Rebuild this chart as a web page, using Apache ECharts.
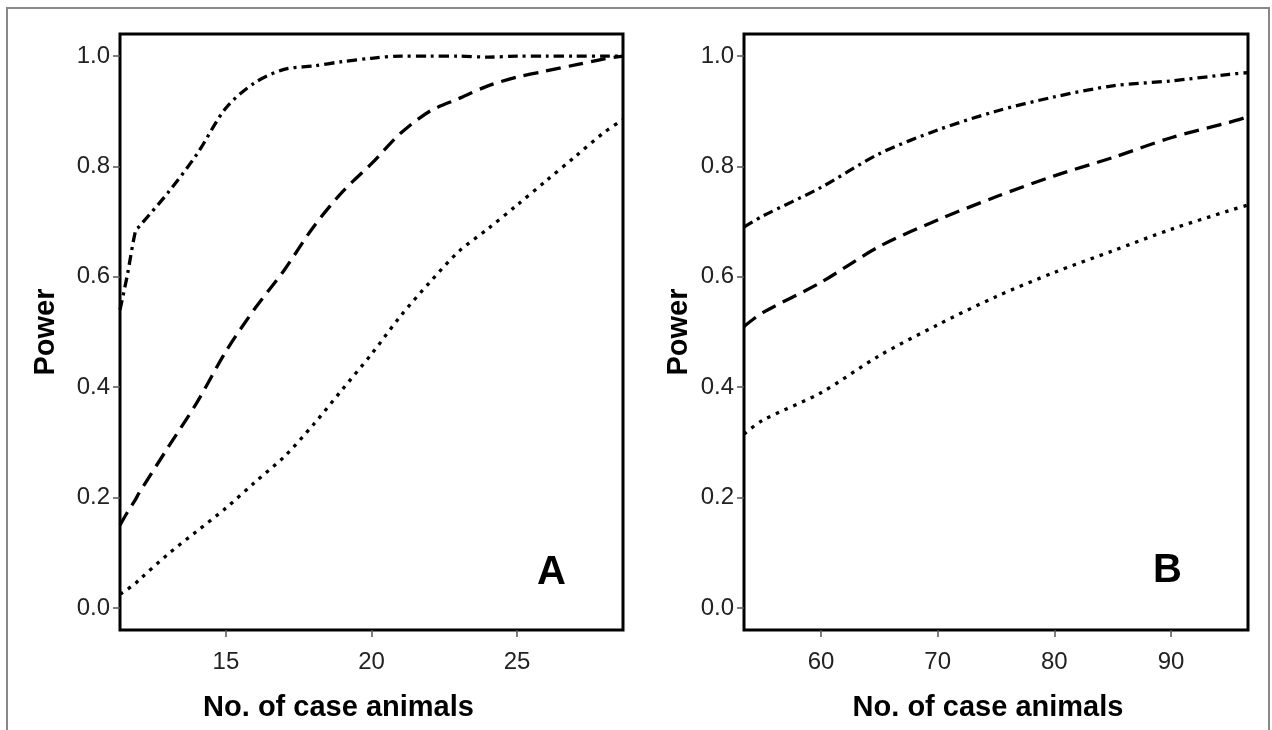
<!DOCTYPE html>
<html>
<head>
<meta charset="utf-8">
<script src="https://cdn.jsdelivr.net/npm/echarts@6/dist/echarts.min.js"></script>
<style>
html,body{margin:0;padding:0;background:#fff;}
#c{width:1272px;height:730px;}
</style>
</head>
<body>
<div id="c"></div>
<script>
// ---- Data ----
var xA = [11.36, 11.6, 11.9, 12, 13, 14, 15, 16, 17, 18, 19, 20, 21, 22, 23, 24, 25, 26, 27, 28, 28.64];
var dashDotA = [0.54, 0.60, 0.685, 0.69, 0.752, 0.822, 0.906, 0.952, 0.976, 0.982, 0.99, 0.996, 1.0, 1.0, 1.0, 0.998, 1.0, 1.0, 1.0, 1.0, 1.0];
var dashedA  = [0.15, 0.172, 0.197, 0.207, 0.29, 0.372, 0.465, 0.543, 0.612, 0.69, 0.754, 0.805, 0.86, 0.90, 0.923, 0.946, 0.962, 0.973, 0.984, 0.995, 1.0];
var dottedA  = [0.025, 0.033, 0.045, 0.05, 0.097, 0.139, 0.181, 0.228, 0.274, 0.332, 0.396, 0.46, 0.529, 0.59, 0.646, 0.687, 0.73, 0.774, 0.818, 0.862, 0.885];

var xB = [53.4, 55, 60, 65, 70, 75, 80, 85, 90, 95, 96.6];
var dashDotB = [0.69, 0.71, 0.762, 0.823, 0.866, 0.90, 0.926, 0.946, 0.955, 0.967, 0.970];
var dashedB  = [0.51, 0.535, 0.59, 0.655, 0.703, 0.745, 0.783, 0.816, 0.852, 0.88, 0.89];
var dottedB  = [0.315, 0.34, 0.39, 0.457, 0.513, 0.564, 0.608, 0.647, 0.686, 0.72, 0.73];

var xTicksA = [15, 20, 25];
var xTicksB = [60, 70, 80, 90];
var yTicks = [0, 0.2, 0.4, 0.6, 0.8, 1.0];
var xRangeA = [11.36, 28.64];
var xRangeB = [53.4, 96.6];
var yRange = [-0.04, 1.04];
var yTitle = 'Power';
var xTitle = 'No. of case animals';
var panelLabels = ['A', 'B'];

function pairs(xs, ys) { return xs.map(function (x, i) { return [x, ys[i]]; }); }

var FONT = '"Liberation Sans", Arial, Helvetica, sans-serif';
var tickStyle = { show: true, inside: false, length: 7, lineStyle: { color: '#555', width: 1.5 } };

function xAxis(idx, range, ticks, titlePad) {
  return {
    type: 'value', gridIndex: idx, min: range[0], max: range[1],
    axisLine: { show: false, onZero: false },
    splitLine: { show: false },
    axisTick: Object.assign({ customValues: ticks }, tickStyle),
    axisLabel: { customValues: ticks, margin: 20, color: '#222', fontSize: 24, fontFamily: FONT },
    name: xTitle, nameLocation: 'middle', nameGap: 63,
    nameTextStyle: { fontSize: 29, fontWeight: 'bold', color: '#000', fontFamily: FONT, padding: titlePad }
  };
}
function yAxis(idx, gap) {
  return {
    type: 'value', gridIndex: idx, min: yRange[0], max: yRange[1],
    axisLine: { show: false, onZero: false },
    splitLine: { show: false },
    axisTick: Object.assign({ customValues: yTicks }, tickStyle),
    axisLabel: { customValues: yTicks, margin: 10, color: '#222', fontSize: 24, fontFamily: FONT,
      formatter: function (v) { return v.toFixed(1); } },
    name: yTitle, nameLocation: 'middle', nameGap: gap, nameRotate: 90,
    nameTextStyle: { fontSize: 29, fontWeight: 'bold', color: '#000', fontFamily: FONT }
  };
}
function line(idx, data, dash) {
  return {
    type: 'line', xAxisIndex: idx, yAxisIndex: idx, data: data, showSymbol: false, symbol: 'none',
    smooth: 0.3, clip: true, silent: true,
    lineStyle: { color: '#000', width: 3.3, type: dash, cap: 'butt' }
  };
}

var DASHDOT = [10, 5, 3, 5];
var DASHED = [15, 8];
var DOTTED = [3.5, 6];

var chart = echarts.init(document.getElementById('c'), null, { renderer: 'canvas' });
chart.setOption({
  backgroundColor: '#fff',
  animation: false,
  grid: [
    { left: 120, top: 34, width: 503, height: 596, show: true, borderColor: '#000', borderWidth: 3, backgroundColor: 'transparent' },
    { left: 744, top: 34, width: 504, height: 596, show: true, borderColor: '#000', borderWidth: 3, backgroundColor: 'transparent' }
  ],
  xAxis: [xAxis(0, xRangeA, xTicksA, [0, 66, 0, 0]), xAxis(1, xRangeB, xTicksB, [0, 16, 0, 0])],
  yAxis: [yAxis(0, 60), yAxis(1, 51)],
  series: [
    line(0, pairs(xA, dashDotA), DASHDOT),
    line(0, pairs(xA, dashedA), DASHED),
    line(0, pairs(xA, dottedA), DOTTED),
    line(1, pairs(xB, dashDotB), DASHDOT),
    line(1, pairs(xB, dashedB), DASHED),
    line(1, pairs(xB, dottedB), DOTTED)
  ],
  graphic: [
    { type: 'rect', shape: { x: 7, y: 8, width: 1262, height: 760 }, style: { fill: 'none', stroke: '#888', lineWidth: 2 }, silent: true },
    { type: 'text', left: 537, top: 553, style: { text: panelLabels[0], font: 'bold 40px ' + FONT, fill: '#000' } },
    { type: 'text', left: 1153, top: 551, style: { text: panelLabels[1], font: 'bold 40px ' + FONT, fill: '#000' } }
  ]
});
</script>
</body>
</html>
